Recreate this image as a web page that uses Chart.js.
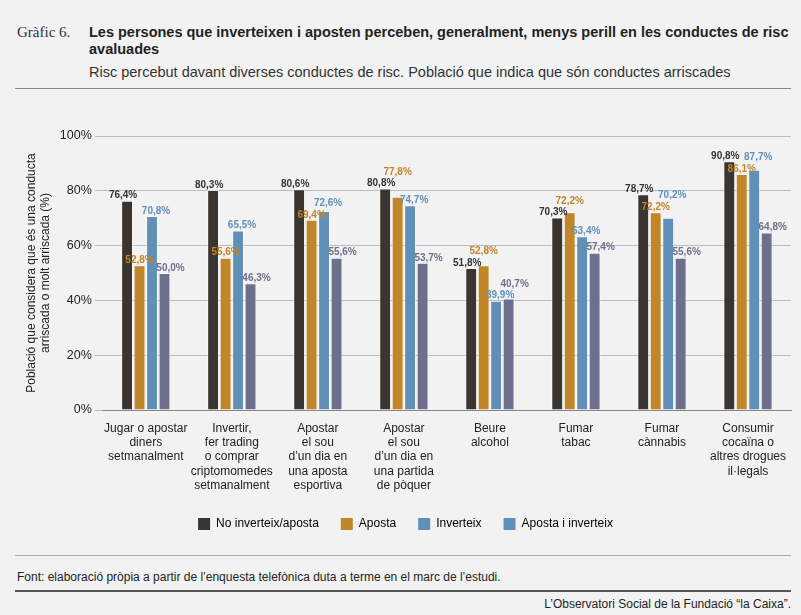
<!DOCTYPE html>
<html><head><meta charset="utf-8">
<script src="https://cdn.jsdelivr.net/npm/chart.js@4"></script>
<style>
body{margin:0;width:801px;height:615px;background:#f2f2f2;font-family:"Liberation Sans",Arial,sans-serif;position:relative;overflow:hidden}
.t{position:absolute}
</style></head><body>
<div class="t" style="left:17px;top:24px;font-family:'Liberation Serif',serif;font-size:15px;color:#333">Gràfic 6.</div>
<div class="t" style="left:89px;top:24px;width:710px;font-weight:bold;font-size:14.5px;line-height:17px;color:#222">Les persones que inverteixen i aposten perceben, generalment, menys perill en les conductes de risc avaluades</div>
<div class="t" style="left:89px;top:64px;font-size:14.5px;color:#333">Risc percebut davant diverses conductes de risc. Població que indica que són conductes arriscades</div>
<div class="t" style="left:15px;top:88px;width:776px;border-top:1px solid #888"></div>
<div class="t" style="left:15px;top:555px;width:776px;border-top:1px solid #aaa"></div>
<div class="t" style="left:17px;top:570px;font-size:12px;color:#222">Font: elaboració pròpia a partir de l’enquesta telefònica duta a terme en el marc de l’estudi.</div>
<div class="t" style="left:15px;top:590px;width:776px;border-top:2px solid #555"></div>
<div class="t" style="right:10px;top:597px;font-size:12px;color:#222">L’Observatori Social de la Fundació “la Caixa”.</div>
<div class="t" style="left:0;top:100px;width:801px;height:440px"><canvas id="c" width="801" height="440"></canvas></div>
<script>
const categories=[["Jugar o apostar","diners","setmanalment"],["Invertir,","fer trading","o comprar","criptomomedes","setmanalment"],["Apostar","el sou","d’un dia en","una aposta","esportiva"],["Apostar","el sou","d’un dia en","una partida","de pòquer"],["Beure","alcohol"],["Fumar","tabac"],["Fumar","cànnabis"],["Consumir","cocaïna o","altres drogues","il·legals"]];
const seriesNames=["No inverteix/aposta","Aposta","Inverteix","Aposta i inverteix"];
const noInverteix=[76.4,80.3,80.6,80.8,51.8,70.3,78.7,90.8];
const aposta=[52.8,55.6,69.4,77.8,52.8,72.2,72.2,86.1];
const inverteix=[70.8,65.5,72.6,74.7,39.9,63.4,70.2,87.7];
const apostaInverteix=[50.0,46.3,55.6,53.7,40.7,57.4,55.6,64.8];
const yTicks=[0,20,40,60,80,100];
const colors=["#3a3530","#c08628","#6090b8","#6e6f8c"];
const legendColors=["#3a3530","#c08628","#6090b8","#6090b8"];
const labelColors=["#333","#c08628","#6090b8","#6e6f8c"];
const data=[noInverteix,aposta,inverteix,apostaInverteix];
const lbl={id:'lbl',afterDatasetsDraw(ch){const c=ch.ctx;c.save();c.font='bold 10px "Liberation Sans"';c.textAlign='center';
 const n=ch.data.labels.length;
 for(let j=0;j<n;j++){const placed=[];
  for(let i=0;i<4;i++){const b=ch.getDatasetMeta(i).data[j];const t=data[i][j].toFixed(1).replace('.',',')+'%';
   const w=c.measureText(t).width;const x=b.x+[-4,0,4,6][i];let y=b.y-5;
   const hit=yy=>placed.some(p=>Math.abs(p.x-x)<(p.w+w)/2+1&&Math.abs(p.y-yy)<11);
   while(hit(y))y-=1;
   placed.push({x,y,w});c.fillStyle=labelColors[i];c.fillText(t,x,y);}}
 c.restore();}};
new Chart(document.getElementById('c'),{type:'bar',
data:{labels:categories,datasets:data.map((d,i)=>({label:seriesNames[i],data:d,backgroundColor:colors[i],borderColor:'rgba(255,255,255,0.5)',borderWidth:1,categoryPercentage:0.58,barPercentage:0.95}))},
options:{responsive:false,animation:false,layout:{padding:{left:20,right:10,top:36}},
plugins:{tooltip:{enabled:false},legend:{position:'bottom',labels:{color:'#222',font:{size:12,family:'Liberation Sans'},boxWidth:12,boxHeight:12,padding:22,
 generateLabels:ch=>seriesNames.map((n,i)=>({text:n,fillStyle:legendColors[i],strokeStyle:legendColors[i],lineWidth:0,datasetIndex:i}))}}},
scales:{x:{grid:{display:false},border:{color:'#888'},ticks:{color:'#222',font:{size:12},autoSkip:false,maxRotation:0}},
y:{min:0,max:100,afterBuildTicks:a=>{a.ticks=yTicks.map(v=>({value:v}));},grid:{color:'#bbb'},border:{display:false},
 ticks:{color:'#222',font:{size:12.5},callback:v=>v+'%'},title:{display:true,text:["Població que considera que és una conducta","arriscada o molt arriscada (%)"],color:'#222',font:{size:12}}}}},
plugins:[lbl]});
</script></body></html>
